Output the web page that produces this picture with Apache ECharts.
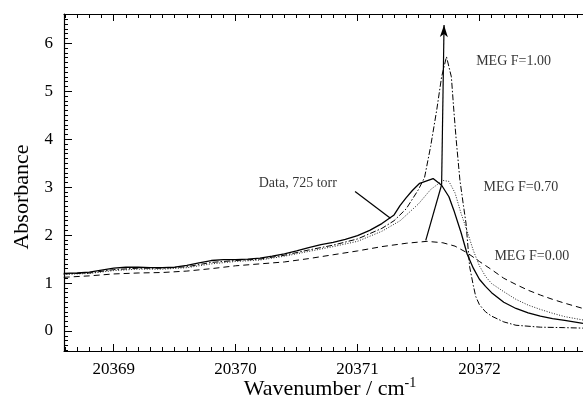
<!DOCTYPE html>
<html>
<head>
<meta charset="utf-8">
<script src="https://cdn.jsdelivr.net/npm/echarts@6/dist/echarts.min.js"></script>
<style>
html,body{margin:0;padding:0;background:#fff;}
#chart{width:583px;height:409px;}
</style>
</head>
<body>
<div id="chart"></div>
<script>
// ---- tick labels ----
const xTicks = [20369, 20370, 20371, 20372];
const yTicks = [0, 1, 2, 3, 4, 5, 6];

// ---- Data, 725 torr (solid) ----
const dataX = [20368.59, 20368.7, 20368.8, 20368.9, 20369.0, 20369.1, 20369.2, 20369.3, 20369.4, 20369.5, 20369.6, 20369.7, 20369.8, 20369.9, 20370.0, 20370.1, 20370.2, 20370.3, 20370.4, 20370.5, 20370.6, 20370.7, 20370.8, 20370.9, 20371.0, 20371.1, 20371.2, 20371.3, 20371.35, 20371.4, 20371.45, 20371.51, 20371.62, 20371.69, 20371.75, 20371.79, 20371.85, 20371.9, 20371.95, 20372.0, 20372.05, 20372.1, 20372.2, 20372.3, 20372.4, 20372.5, 20372.6, 20372.7, 20372.85];
const dataY = [1.20, 1.21, 1.23, 1.27, 1.31, 1.33, 1.33, 1.32, 1.32, 1.33, 1.37, 1.42, 1.47, 1.49, 1.49, 1.50, 1.52, 1.56, 1.61, 1.67, 1.74, 1.80, 1.85, 1.91, 1.99, 2.10, 2.24, 2.42, 2.62, 2.78, 2.93, 3.08, 3.18, 3.04, 2.80, 2.52, 2.05, 1.60, 1.31, 1.08, 0.93, 0.80, 0.60, 0.47, 0.38, 0.31, 0.26, 0.22, 0.16];

// ---- MEG F=0.70 (dotted) ----
const f070X = [20368.59, 20368.8, 20369.0, 20369.2, 20369.4, 20369.6, 20369.8, 20370.0, 20370.2, 20370.4, 20370.6, 20370.8, 20371.0, 20371.2, 20371.35, 20371.5, 20371.6, 20371.7, 20371.75, 20371.8, 20371.85, 20371.9, 20371.95, 20372.0, 20372.05, 20372.1, 20372.2, 20372.3, 20372.4, 20372.5, 20372.6, 20372.7, 20372.85];
const f070Y = [1.18, 1.20, 1.26, 1.29, 1.29, 1.32, 1.40, 1.45, 1.48, 1.56, 1.66, 1.76, 1.87, 2.08, 2.30, 2.65, 2.95, 3.14, 3.12, 2.88, 2.45, 2.08, 1.68, 1.36, 1.14, 0.99, 0.82, 0.66, 0.54, 0.45, 0.37, 0.30, 0.23];

// ---- MEG F=1.00 (dash-dot) ----
const f100X = [20368.59, 20368.8, 20369.0, 20369.2, 20369.4, 20369.6, 20369.8, 20370.0, 20370.2, 20370.4, 20370.6, 20370.8, 20371.0, 20371.2, 20371.3, 20371.4, 20371.5, 20371.55, 20371.6, 20371.65, 20371.69, 20371.73, 20371.77, 20371.79, 20371.81, 20371.84, 20371.87, 20371.89, 20371.92, 20371.95, 20371.97, 20372.0, 20372.05, 20372.1, 20372.2, 20372.3, 20372.5, 20372.7, 20372.85];
const f100Y = [1.19, 1.21, 1.28, 1.31, 1.31, 1.34, 1.43, 1.47, 1.50, 1.58, 1.69, 1.79, 1.92, 2.14, 2.30, 2.55, 2.95, 3.20, 3.85, 4.61, 5.30, 5.72, 5.30, 4.61, 3.98, 3.15, 2.60, 2.25, 1.34, 0.95, 0.72, 0.55, 0.40, 0.31, 0.19, 0.12, 0.08, 0.07, 0.06];

// ---- MEG F=0.00 (dashed) ----
const f000X = [20368.59, 20368.8, 20369.0, 20369.2, 20369.4, 20369.6, 20369.8, 20370.0, 20370.2, 20370.4, 20370.6, 20370.8, 20371.0, 20371.2, 20371.4, 20371.57, 20371.7, 20371.8, 20371.9, 20372.0, 20372.1, 20372.2, 20372.3, 20372.4, 20372.5, 20372.6, 20372.7, 20372.85];
const f000Y = [1.12, 1.15, 1.19, 1.21, 1.22, 1.25, 1.30, 1.36, 1.40, 1.44, 1.51, 1.59, 1.67, 1.76, 1.83, 1.87, 1.84, 1.77, 1.63, 1.45, 1.28, 1.10, 0.97, 0.85, 0.75, 0.66, 0.58, 0.47];

// ---- annotation texts (data coordinates) ----
const noteTexts = ['Data, 725 torr', 'MEG F=1.00', 'MEG F=0.70', 'MEG F=0.00'];
const noteX = [20370.51, 20372.28, 20372.34, 20372.43];
const noteY = [3.09, 5.63, 3.00, 1.56];

// pointer line to data curve, and arrow through peaks
const pointerLine = [[20370.98, 2.91], [20371.27, 2.35]];
const arrowPath = [[20371.56, 1.89], [20371.69, 3.05], [20371.71, 6.38]];

const X_MIN = 20368.592, X_MAX = 20372.85, Y_MIN = -0.417, Y_MAX = 6.611;
const FONT = "'Liberation Serif', 'Times New Roman', serif";

function zip(xs, ys) { return xs.map((x, i) => [x, ys[i]]); }
function minorTicks(a, b) {
  const out = [];
  for (let v = Math.ceil(a * 10); v <= Math.floor(b * 10); v++) out.push(+(v / 10).toFixed(1));
  return out;
}
const xMinor = minorTicks(X_MIN, X_MAX);
const yMinor = minorTicks(Y_MIN, Y_MAX);

const lineStyleBase = { color: '#000', width: 1 };
function xAx(pos, ticks, len, showLine, showLabel) {
  return {
    type: 'value', position: pos, min: X_MIN, max: X_MAX,
    axisLine: { show: showLine, onZero: false, lineStyle: { color: '#000', width: 1.2 } },
    axisTick: { show: true, inside: true, length: len, customValues: ticks, lineStyle: { color: '#000', width: 1 } },
    axisLabel: { show: showLabel, customValues: ticks, margin: 10, color: '#000', fontFamily: FONT, fontSize: 17, formatter: v => String(v) },
    splitLine: { show: false }
  };
}
function yAx(pos, ticks, len, showLine, showLabel) {
  return {
    type: 'value', position: pos, min: Y_MIN, max: Y_MAX,
    axisLine: { show: showLine, onZero: false, lineStyle: { color: '#000', width: 1.2 } },
    axisTick: { show: true, inside: true, length: len, customValues: ticks, lineStyle: { color: '#000', width: 1 } },
    axisLabel: { show: showLabel, customValues: ticks, margin: 11, color: '#000', fontFamily: FONT, fontSize: 17, formatter: v => String(v) },
    splitLine: { show: false }
  };
}

const chart = echarts.init(document.getElementById('chart'), null, { renderer: 'canvas' });
chart.setOption({
  animation: false,
  backgroundColor: '#fff',
  grid: { left: 64, right: 0, top: 14, bottom: 58, containLabel: false },
  xAxis: [
    xAx('bottom', xTicks, 7, true, true),
    xAx('bottom', xMinor, 4, false, false),
    xAx('top', xTicks, 7, true, false),
    xAx('top', xMinor, 4, false, false)
  ],
  yAxis: [
    yAx('left', yTicks, 8, true, true),
    yAx('left', yMinor, 4, false, false)
  ],
  graphic: [
    { type: 'text', x: 22, y: 197, rotation: Math.PI / 2,
      style: { text: 'Absorbance', fill: '#000', font: "22px " + FONT, align: 'center', verticalAlign: 'middle' } },
    { type: 'text', x: 330, y: 389,
      style: { text: 'Wavenumber / cm{s|-1}', fill: '#000', font: "22px " + FONT, align: 'center', verticalAlign: 'middle',
        rich: { s: { fontSize: 14, fontFamily: FONT, fill: '#000', verticalAlign: 'top', padding: [0, 0, 12, 0] } } } }
  ],
  series: [
    { name: 'MEG F=0.00', type: 'line', data: zip(f000X, f000Y), showSymbol: false, symbol: 'none',
      lineStyle: { color: '#000', width: 1, type: [6, 4] }, silent: true },
    { name: 'MEG F=0.70', type: 'line', data: zip(f070X, f070Y), showSymbol: false, symbol: 'none',
      lineStyle: { color: '#222', width: 1, type: [1, 1.6] }, silent: true },
    { name: 'MEG F=1.00', type: 'line', data: zip(f100X, f100Y), showSymbol: false, symbol: 'none',
      lineStyle: { color: '#000', width: 1, type: [6, 2, 1.5, 2] }, silent: true },
    { name: 'Data, 725 torr', type: 'line', data: zip(dataX, dataY), showSymbol: false, symbol: 'none',
      lineStyle: { color: '#000', width: 1.3 }, silent: true,
      markLine: {
        silent: true, symbol: ['none', 'none'], animation: false,
        label: { show: false },
        lineStyle: { color: '#000', width: 1.2, type: 'solid' },
        emphasis: { disabled: true },
        data: [
          [{ coord: pointerLine[0] }, { coord: pointerLine[1] }],
          [{ coord: arrowPath[0] }, { coord: arrowPath[1] }],
          [{ coord: arrowPath[1] }, { coord: arrowPath[2], symbol: 'arrow', symbolSize: [6, 12] }]
        ]
      } },
    { name: 'notes', type: 'scatter', symbolSize: 0, silent: true,
      data: noteTexts.map((t, i) => ({ name: t, value: [noteX[i], noteY[i]] })),
      label: { show: true, position: 'inside', formatter: p => p.name, color: '#000', fontFamily: FONT, fontSize: 14 } }
  ]
});
</script>
</body>
</html>
